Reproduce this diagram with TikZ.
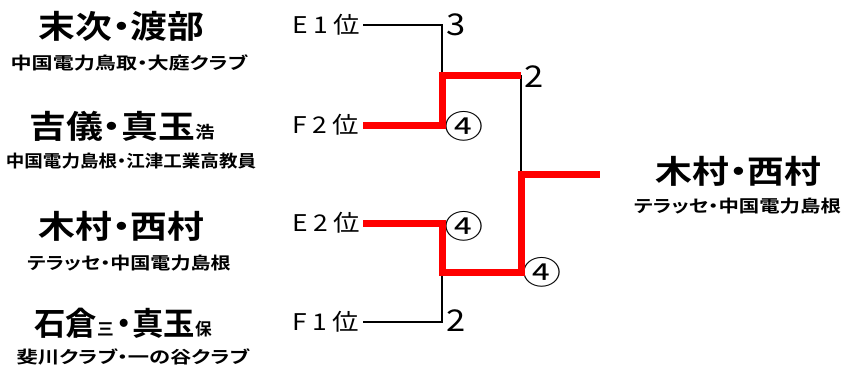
\documentclass[tikz,border=0pt]{standalone}
\usepackage{fontspec}
\newfontfamily\jp{Noto Sans CJK JP}[BoldFont={Noto Sans CJK JP Bold},RawFeature=+palt]
\newfontfamily\jpn{Noto Sans CJK JP}
\newcommand\sx[2][1.15]{\scalebox{#1}[1]{#2}}
\newcommand\smallkanji[1]{{\fontsize{17}{17}\selectfont #1}}
\begin{document}
\begin{tikzpicture}[x=1pt,y=-1pt,
  bigname/.style={inner sep=0pt,font=\jp\bfseries\fontsize{32}{32}\selectfont},
  subname/.style={inner sep=0pt,font=\jp\bfseries\fontsize{17}{17}\selectfont},
  seed/.style={inner sep=0pt,font=\jpn\fontsize{23}{23}\selectfont},
  score/.style={inner sep=0pt,font=\jpn\fontsize{30}{30}\selectfont},
  cscore/.style={inner sep=0pt,font=\jpn\fontsize{32}{32}\selectfont},
  win/.style={draw=red,line width=7pt},
  lose/.style={draw=black,line width=2.2pt}]
\useasboundingbox (0,0) rectangle (841,370);
% left names
\node[bigname] (n1) at (121.5,26.5) {\sx{末次・渡部}};
\node[subname] (s1) at (129,62.5) {\sx[1.24]{中国電力鳥取・大庭クラブ}};
\node[bigname] (n2) at (122,126) {\sx{吉儀・真玉\smallkanji{浩}}};
\node[subname] (s2) at (131,161.5) {\sx[1.09]{中国電力島根・江津工業高教員}};
\node[bigname] (n3) at (121.5,226.5) {\sx{木村・西村}};
\node[subname] (s3) at (129,263) {\sx[1.18]{テラッセ・中国電力島根}};
\node[bigname] (n4) at (123,323.5) {\sx[0.98]{石倉\smallkanji{三}\hspace{3pt}・真玉\smallkanji{保}}};
\node[subname] (s4) at (133,356.5) {\sx[1.25]{斐川クラブ・一の谷クラブ}};
% right winner
\node[bigname] (w) at (738.5,171.5) {\sx{木村・西村}};
\node[subname] (ws) at (737.5,206.5) {\sx[1.2]{テラッセ・中国電力島根}};
% seeds
\node[seed,anchor=west] (e1) at (292,25) {\sx{E\hspace{5pt}1\hspace{5pt}位}};
\node[seed,anchor=west] (f2) at (292,125) {\sx{F\hspace{5pt}2\hspace{5pt}位}};
\node[seed,anchor=west] (e2) at (292,223) {\sx{E\hspace{5pt}2\hspace{5pt}位}};
\node[seed,anchor=west] (f1) at (292,322) {\sx{F\hspace{5pt}1\hspace{5pt}位}};
% scores
\node[score] (sc1) at (456,25) {\sx{3}};
\node[cscore] (sc2) at (464,126) {\sx[1.22]{④}};
\node[cscore] (sc3) at (464,226) {\sx[1.22]{④}};
\node[score] (sc4) at (456,321) {\sx{2}};
\node[score] (sc5) at (534,77) {\sx{2}};
\node[cscore] (sc6) at (542,272) {\sx[1.22]{④}};
% junction coordinates
\coordinate (a1) at (363,25);
\coordinate (a2) at (363,125);
\coordinate (a3) at (363,223);
\coordinate (a4) at (363,322);
\coordinate (j1) at (442,75);
\coordinate (j2) at (442,272);
\coordinate (k1) at (521,75);
\coordinate (k2) at (521,174);
\coordinate (fin) at (600,174);
% lines
\draw[lose] (a1) -| (j1);
\draw[lose] (a4) -| (j2);
\draw[lose] (k1) -- (k2);
\draw[win] (a2) -| (j1) -- (k1);
\draw[win] (a3) -| (j2) -- (j2 -| k2) -- (k2) -- (fin);
\end{tikzpicture}
\end{document}
